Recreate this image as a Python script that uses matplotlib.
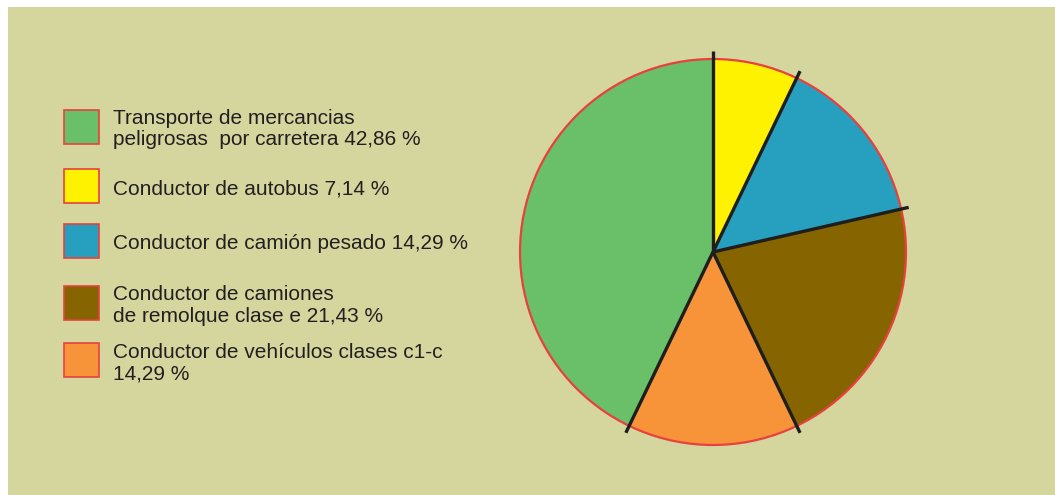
import numpy as np
import matplotlib.pyplot as plt
from matplotlib.patches import Rectangle, Circle

# shares in percent, clockwise from the top
categories = ['Conductor de autobus',
              'Conductor de camión pesado',
              'Conductor de camiones de remolque clase e',
              'Conductor de vehículos clases c1-c',
              'Transporte de mercancias peligrosas por carretera']
shares = [7.14, 14.29, 21.43, 14.29, 42.86]
colors = ['#fff200', '#27a0bf', '#866400', '#f7943a', '#6abf69']

# legend entries, top to bottom
legend_labels = ['Transporte de mercancias\npeligrosas  por carretera 42,86 %',
                 'Conductor de autobus 7,14 %',
                 'Conductor de camión pesado 14,29 %',
                 'Conductor de camiones\nde remolque clase e 21,43 %',
                 'Conductor de vehículos clases c1-c\n14,29 %']
legend_colors = ['#6abf69', '#fff200', '#27a0bf', '#866400', '#f7943a']

W, H = 1055, 495
bg = '#d5d69e'
edge_red = '#e8403f'
ink = '#231f20'

plt.rcParams['font.family'] = ['Liberation Sans', 'DejaVu Sans']

fig = plt.figure(figsize=(W / 100, H / 100), dpi=100)
fig.patch.set_facecolor('white')
ax = fig.add_axes([0, 0, 1, 1])

# olive panel
ax.add_patch(Rectangle((8, 0), W - 8, H - 7, facecolor=bg, edgecolor='none', zorder=0))

# pie
cx, cy, r = 713, H - 252, 193
ax.pie(shares, colors=colors, startangle=90, counterclock=False,
       center=(cx, cy), radius=r, wedgeprops=dict(linewidth=0), frame=True)
ax.set_xlim(0, W)
ax.set_ylim(0, H)
ax.set_aspect('equal')
ax.axis('off')
ax.add_patch(Circle((cx, cy), r, facecolor='none', edgecolor=edge_red, linewidth=1.6, zorder=3))

# black separators between wedges, running a bit past the rim
bounds = np.concatenate([[0], np.cumsum(shares)[:-1]])
for b in bounds:
    ang = np.deg2rad(90 - b * 3.6)
    ext = 1.04 * r
    ax.plot([cx, cx + ext * np.cos(ang)], [cy, cy + ext * np.sin(ang)],
            color='#1e1e1e', linewidth=2.4, solid_capstyle='butt', zorder=4)

# legend
box_tops = [110, 169, 224, 286, 343]
baselines = [123.5, 194.5, 249, 300, 358.5]
line_gap = 21.5
for label, col, top, base in zip(legend_labels, legend_colors, box_tops, baselines):
    ax.add_patch(Rectangle((64, H - top - 34), 35, 34, facecolor=col,
                           edgecolor=edge_red, linewidth=1.2, zorder=3))
    for i, line in enumerate(label.split('\n')):
        ax.text(113, H - base - i * line_gap, line, fontsize=15, color=ink,
                ha='left', va='baseline')

fig.savefig('out.png', dpi=100, facecolor='white')
